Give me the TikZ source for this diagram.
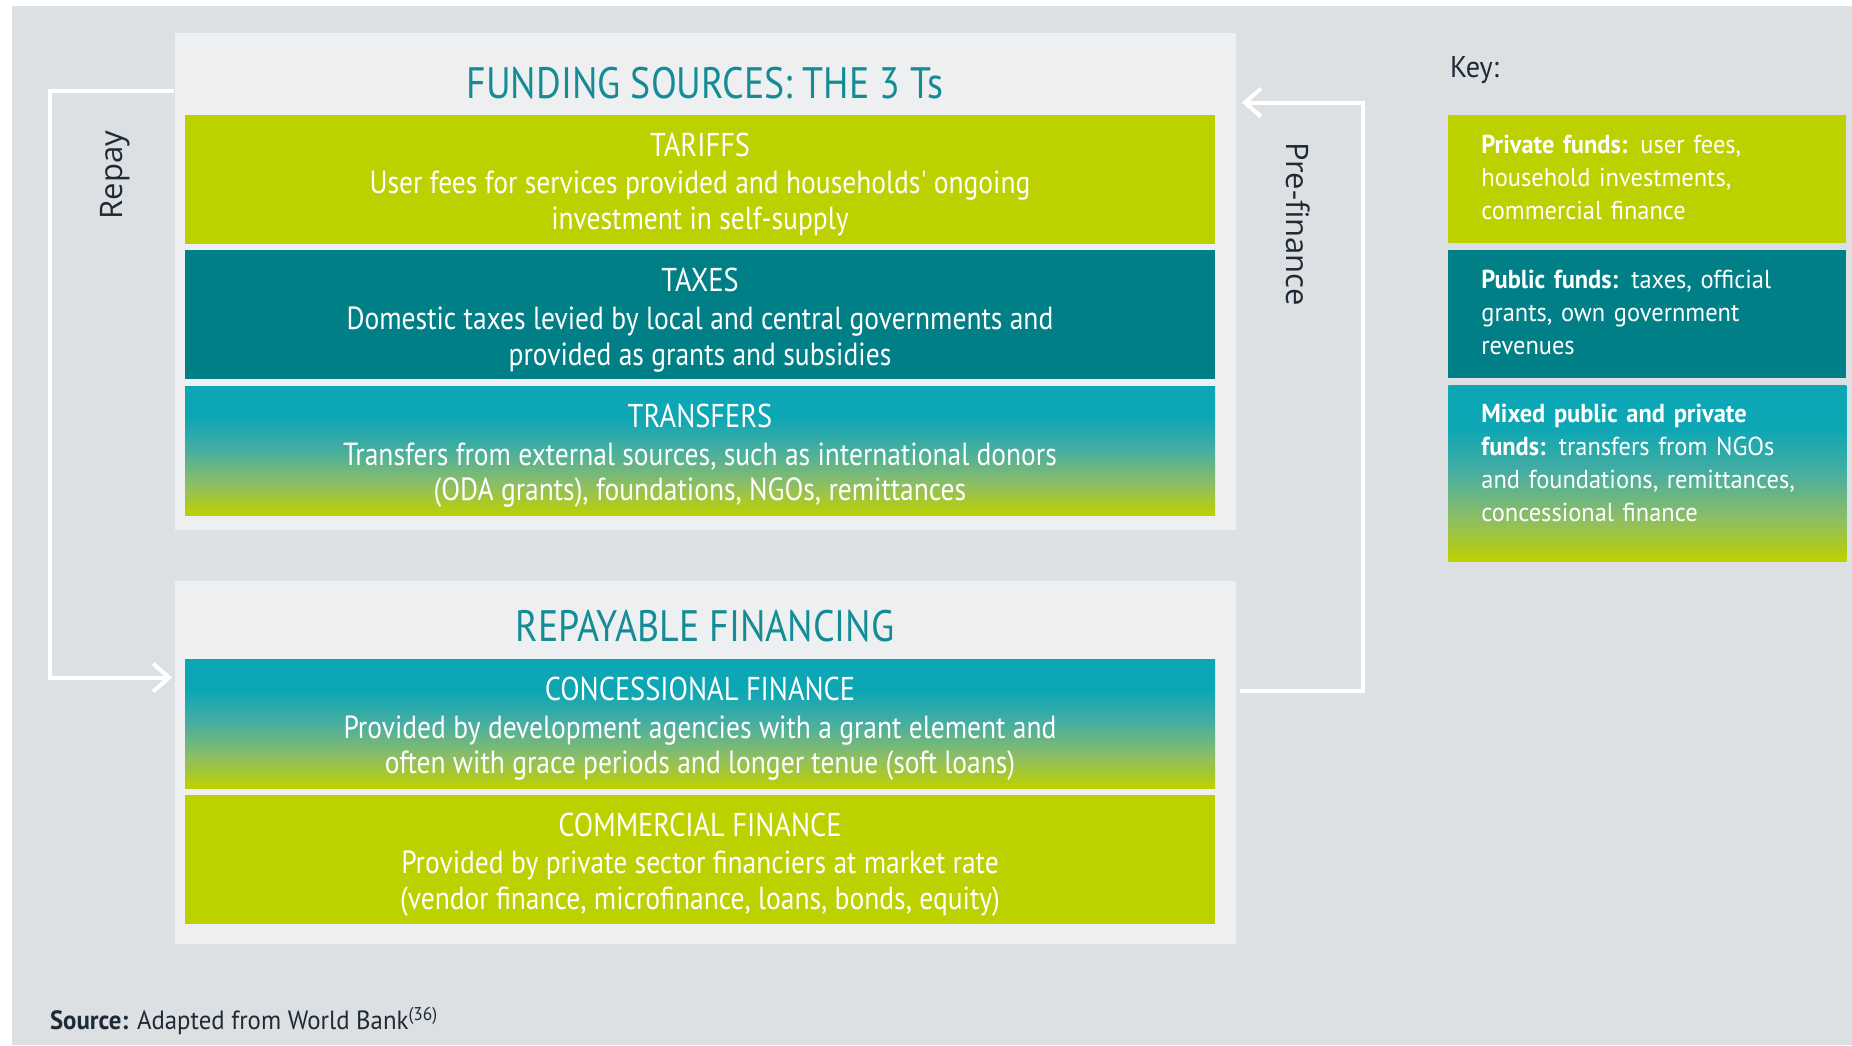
\documentclass[tikz,border=0pt]{standalone}
\usepackage{fontspec}
\setmainfont{PT Sans}
\newfontfamily\boxfont[FakeStretch=0.86]{PT Sans}
\newfontfamily\keyfont[FakeStretch=0.94]{PT Sans}
\newfontfamily\sidefont{Open Sans}
\usetikzlibrary{arrows.meta, positioning, calc}
\definecolor{fundbg}{HTML}{DCE0E3}
\definecolor{fundpanel}{HTML}{EEEFF1}
\definecolor{fundlime}{HTML}{BDD100}
\definecolor{fundteal}{HTML}{007F86}
\definecolor{fundcyan}{HTML}{0CA6B5}
\definecolor{fundmixa}{HTML}{8DBE64}
\definecolor{fundmixb}{HTML}{48AEA0}
\definecolor{fundtitle}{HTML}{138C96}
\definecolor{funddark}{HTML}{1E2A36}
% teal at the top running into lime at the bottom
\pgfdeclareverticalshading{fundmix}{100bp}{color(0bp)=(fundlime); color(25bp)=(fundlime);
  color(37bp)=(fundmixa); color(50bp)=(fundmixb); color(63bp)=(fundcyan); color(100bp)=(fundcyan)}
\tikzset{
  srcbox/.style={rectangle, minimum width=515pt, minimum height=64.5pt, inner sep=0pt,
                 align=center, text=white, font=\boxfont\fontsize{16}{17.7}\selectfont},
  tarbox/.style={srcbox, fill=fundlime},
  taxbox/.style={srcbox, fill=fundteal},
  mixbox/.style={srcbox, shading=fundmix},
  panel/.style={rectangle, fill=fundpanel, inner sep=0pt, minimum width=530.5pt},
  ptitle/.style={font=\boxfont\fontsize{22}{24}\selectfont, text=fundtitle},
  keybox/.style={rectangle, minimum width=199pt, minimum height=64pt, inner sep=0pt},
  keytext/.style={anchor=north west, inner sep=0pt, text width=170pt, align=left, text=white,
                  font=\keyfont\fontsize{13}{16.5}\selectfont},
  flow/.style={draw=white, line width=2pt, line join=miter, -{Straight Barb[length=8pt, width=14pt]}},
  sidelbl/.style={font=\sidefont\fontsize{15.5}{18}\selectfont, text=funddark},
}
% heading line of a box, with a strut that pushes the block down a little
\newcommand{\boxhead}[1]{\rule{0pt}{17pt}{\fontsize{16.5}{19}\selectfont #1}\\[1.2pt]}

\begin{document}
\begin{tikzpicture}[x=0.5pt, y=-0.5pt]
  \useasboundingbox (0,0) rectangle (1852,1045);
  \fill[fundbg] (12,6) rectangle (1852,1045);

  % the three Ts
  \node[panel, minimum height=248.5pt] (fund) at (705,281.5) {};
  \node[ptitle] (fundt) at (705,83) {FUNDING SOURCES: THE 3 Ts};
  \node[tarbox] (tariffs) at (700,179) {\boxhead{TARIFFS}User fees for services provided and households' ongoing\\investment in self-supply};
  \node[taxbox, below=3pt of tariffs] (taxes) {\boxhead{TAXES}Domestic taxes levied by local and central governments and\\provided as grants and subsidies};
  \node[mixbox, below=3pt of taxes] (transfers) {\boxhead{TRANSFERS}Transfers from external sources, such as international donors\\(ODA grants), foundations, NGOs, remittances};

  % loans
  \node[panel, minimum height=181.5pt] (repay) at (705,762.5) {};
  \node[ptitle] (repayt) at (705,626) {REPAYABLE FINANCING};
  \node[mixbox] (conc) at (700,723.5) {\boxhead{CONCESSIONAL FINANCE}Provided by development agencies with a grant element and\\often with grace periods and longer tenue (soft loans)};
  \node[tarbox, below=3pt of conc] (comm) {\boxhead{COMMERCIAL FINANCE}Provided by private sector financiers at market rate\\(vendor finance, microfinance, loans, bonds, equity)};

  % loops between the panels
  \draw[flow] ($(fund.north west)+(0,58)$) -- ++(-124,0) |- ($(repay.north west)+(-2,97)$);
  \node[sidelbl, rotate=90] (repaylbl) at (115,175) {Repay};
  \draw[flow] ($(repay.north east)+(4,110)$) -- ++(123,0) |- ($(fund.north east)+(6,70)$);
  \node[sidelbl, rotate=-90] (prelbl) at (1298,224) {Pre-finance};

  % key
  \node[anchor=west, text=funddark, font=\keyfont\fontsize{15}{18}\selectfont] (key) at (1443,70) {Key:};
  \node[keybox, fill=fundlime, anchor=north west] (kpriv) at (1448,115) {};
  \node[keybox, fill=fundteal, below=3pt of kpriv] (kpub) {};
  \node[keybox, shading=fundmix, minimum height=88pt, below=3pt of kpub] (kmix) {};
  \node[keytext] (kprivt) at ($(kpriv.north west)+(33,20)$) {\textbf{Private funds:} user fees,\\household investments,\\commercial finance};
  \node[keytext] (kpubt) at ($(kpub.north west)+(33,20)$) {\textbf{Public funds:} taxes, official\\grants, own government\\revenues};
  \node[keytext] (kmixt) at ($(kmix.north west)+(33,19)$) {\textbf{Mixed public and private}\\\textbf{funds:} transfers from NGOs\\and foundations, remittances,\\concessional finance};

  \node[anchor=west, text=funddark, font=\keyfont\fontsize{13.2}{16}\selectfont] (src) at (43,1021) {\textbf{Source:} Adapted from World Bank\textsuperscript{(36)}};
\end{tikzpicture}
\end{document}
